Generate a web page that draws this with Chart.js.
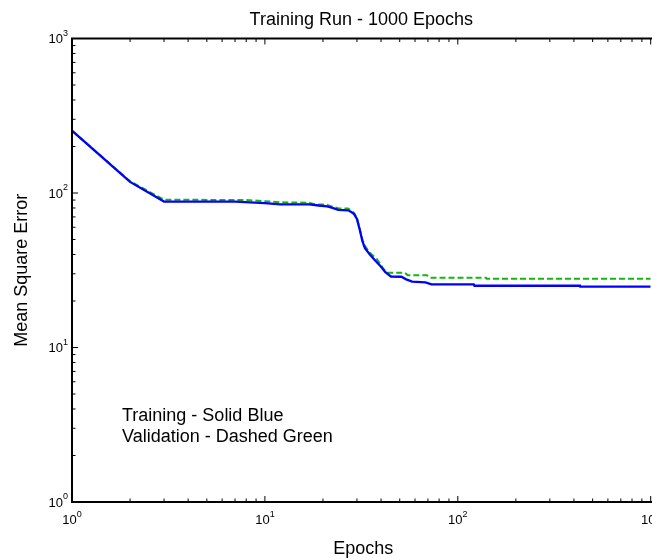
<!DOCTYPE html>
<html>
<head>
<meta charset="utf-8">
<script src="https://cdn.jsdelivr.net/npm/chart.js@4.4.1/dist/chart.umd.min.js"></script>
<style>
html,body{margin:0;padding:0;background:#fff;}
canvas{display:block;}
</style>
</head>
<body>
<canvas id="c" width="652" height="559"></canvas>
<script>
// Mean square error per epoch, listed at the break points of each curve
const trainEpochs = [1,2,3,7,10,12,17,19,21,22,24,27,28,29,30,31,32,33,35,37,40,42,45,51,54,58,68,73,121,122,430,431,1000];
const trainMSE    = [253,118,88,88,86,84.5,84.5,83,82,80.6,77.8,77.3,75.5,73,68,58,49,44,40,37,33.3,30.8,28.8,28.7,27.6,26.7,26.4,25.6,25.6,25.1,25.1,24.8,24.8];
const valEpochs   = [1,2,3,8,10,12,17,18,21,22,24,27,28,29,30,31,32,33,35,38,41,43,53,55,69,72,140,141,1000];
const valMSE      = [253,119,90.5,90,88.5,87,86.5,84.5,84,82,79.6,79.3,77,74,69,59,50,45.5,41,37.5,32.5,30.5,30.5,29.4,29.4,28.3,28.3,27.9,27.9];

// Log-axis ticks: decades carry labels, the 2..9 multiples get short marks
const decades = [1, 10, 100, 1000];
const decadeExponents = ['0', '1', '2', '3'];
const minorFactors = [2, 3, 4, 5, 6, 7, 8, 9];

const titleText = 'Training Run - 1000 Epochs';
const xAxisTitle = 'Epochs';
const yAxisTitle = 'Mean Square Error';
const noteLines = ['Training - Solid Blue', 'Validation - Dashed Green'];

const FONT = '"Liberation Sans", Arial, Helvetica, sans-serif';

function toPoints(xs, ys) {
  return xs.map((v, i) => ({ x: v, y: ys[i] }));
}

// Boxed axes with inward ticks, power-of-ten labels and the text annotations
const axesFrame = {
  id: 'axesFrame',
  afterDatasetsDraw(chart) {
    const { ctx, chartArea: a, scales: { x, y } } = chart;
    ctx.save();
    ctx.strokeStyle = '#000';
    ctx.lineCap = 'butt';

    // tick marks
    ctx.lineWidth = 1;
    const majorLen = 6, minorLen = 3.5;
    const drawXTick = (px, len) => {
      ctx.beginPath();
      ctx.moveTo(px, a.bottom); ctx.lineTo(px, a.bottom - len);
      ctx.moveTo(px, a.top); ctx.lineTo(px, a.top + len);
      ctx.stroke();
    };
    const drawYTick = (py, len) => {
      ctx.beginPath();
      ctx.moveTo(a.left, py); ctx.lineTo(a.left + len, py);
      ctx.stroke();
    };
    decades.forEach((d, i) => {
      drawXTick(x.getPixelForValue(d), majorLen);
      drawYTick(y.getPixelForValue(d), majorLen);
      if (i < decades.length - 1) {
        minorFactors.forEach(f => {
          drawXTick(x.getPixelForValue(d * f), minorLen);
          drawYTick(y.getPixelForValue(d * f), minorLen);
        });
      }
    });

    // axis lines
    ctx.lineWidth = 2;
    ctx.beginPath();
    ctx.moveTo(a.left, a.top); ctx.lineTo(a.right + 2, a.top);
    ctx.moveTo(a.left, a.bottom); ctx.lineTo(a.right + 2, a.bottom);
    ctx.moveTo(a.left, a.top - 1); ctx.lineTo(a.left, a.bottom + 1);
    ctx.stroke();

    // tick labels: "10" with a raised exponent
    ctx.fillStyle = '#000';
    ctx.textBaseline = 'alphabetic';
    ctx.textAlign = 'left';
    const baseFont = '13px ' + FONT, supFont = '9px ' + FONT;
    decades.forEach((d, i) => {
      const exp = decadeExponents[i];
      ctx.font = baseFont; const w10 = ctx.measureText('10').width;
      ctx.font = supFont;  const ws = ctx.measureText(exp).width;

      // x axis
      const px = x.getPixelForValue(d);
      const sx = px - (w10 + ws) / 2;
      const bx = a.bottom + 21.5;
      ctx.font = baseFont; ctx.fillText('10', sx, bx);
      ctx.font = supFont;  ctx.fillText(exp, sx + w10, bx - 7);

      // y axis
      const py = y.getPixelForValue(d);
      const ex = a.left - 4 - ws;
      ctx.font = baseFont; ctx.fillText('10', ex - w10, py + 4.7);
      ctx.font = supFont;  ctx.fillText(exp, ex, py - 3);
    });

    // title and axis titles
    const cx = (a.left + a.right) / 2;
    ctx.font = '18px ' + FONT;
    ctx.textAlign = 'center';
    ctx.fillText(titleText, cx, 25);
    ctx.fillText(xAxisTitle, cx + 2, 554);
    ctx.save();
    ctx.translate(26.5, (a.top + a.bottom) / 2);
    ctx.rotate(-Math.PI / 2);
    ctx.fillText(yAxisTitle, 0, 0);
    ctx.restore();

    // annotation inside the plot
    ctx.textAlign = 'left';
    noteLines.forEach((t, i) => ctx.fillText(t, 122, 420.5 + i * 21.2));

    ctx.restore();
  }
};

new Chart(document.getElementById('c'), {
  type: 'line',
  data: {
    datasets: [
      {
        label: 'Training',
        data: toPoints(trainEpochs, trainMSE),
        borderColor: '#0000ff',
        borderWidth: 2.3,
        pointRadius: 0,
        tension: 0,
        fill: false,
        order: 0
      },
      {
        label: 'Validation',
        data: toPoints(valEpochs, valMSE),
        borderColor: '#10b810',
        borderWidth: 2,
        borderDash: [6, 3],
        pointRadius: 0,
        tension: 0,
        fill: false,
        order: 1
      }
    ]
  },
  options: {
    responsive: false,
    animation: false,
    devicePixelRatio: 1,
    parsing: true,
    layout: { padding: { left: 72, right: 1.3, top: 38.5, bottom: 57 } },
    scales: {
      x: { type: 'logarithmic', min: 1, max: 1000, display: false },
      y: { type: 'logarithmic', min: 1, max: 1000, display: false }
    },
    plugins: {
      legend: { display: false },
      tooltip: { enabled: false },
      title: { display: false }
    }
  },
  plugins: [axesFrame]
});
</script>
</body>
</html>
